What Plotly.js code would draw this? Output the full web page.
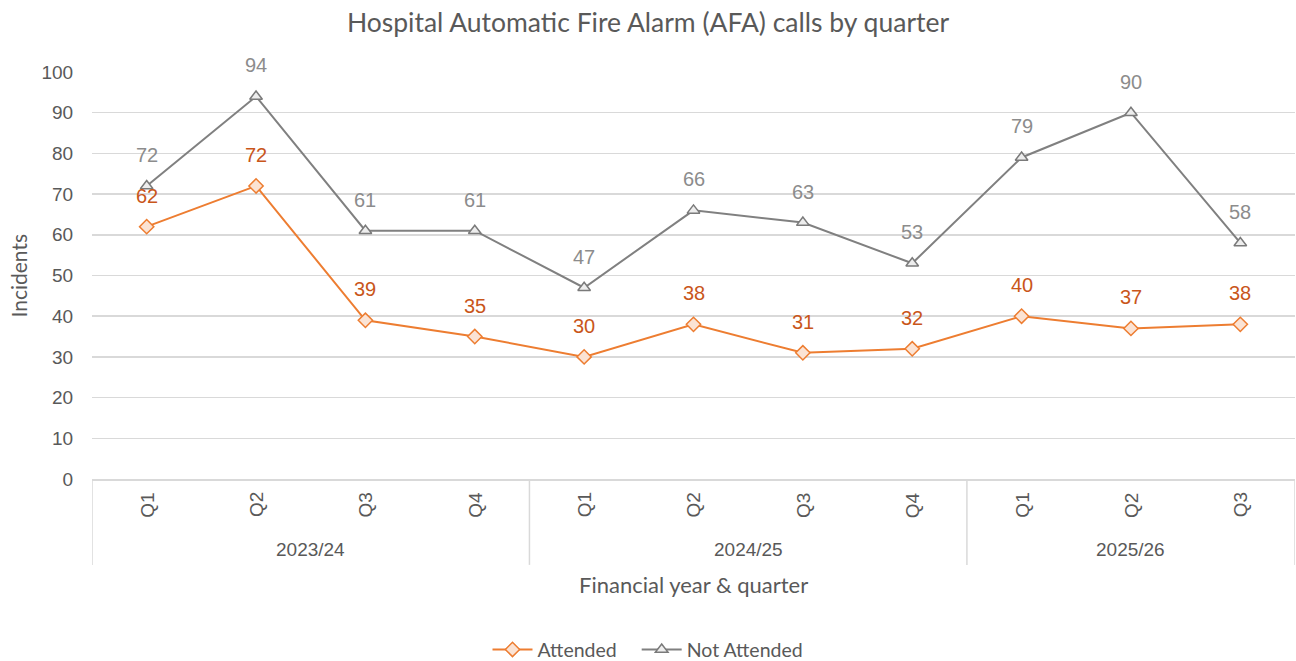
<!DOCTYPE html>
<html>
<head>
<meta charset="utf-8">
<script src="https://cdn.plot.ly/plotly-3.0.1.min.js"></script>
<style>html,body{margin:0;padding:0;background:#fff;}#chart{width:1296px;height:661px;}</style>
</head>
<body>
<div id="chart"></div>
<script>
const quarters = ["Q1","Q2","Q3","Q4","Q1","Q2","Q3","Q4","Q1","Q2","Q3"];
const years = ["2023/24","2023/24","2023/24","2023/24","2024/25","2024/25","2024/25","2024/25","2025/26","2025/26","2025/26"];
const attended = [62,72,39,35,30,38,31,32,40,37,38];
const notAttended = [72,94,61,61,47,66,63,53,79,90,58];
const yearGroups = ["2023/24","2024/25","2025/26"];

const xIdx = quarters.map((q,i)=>i);
const gray = '#595959';
const tickFont = {family:'"Liberation Sans", Arial, sans-serif', size:19, color:gray};
const labelFamily = 'Lato, "Open Sans", sans-serif';

const traces = [
  {x:xIdx, y:attended, name:'Attended\u00a0\u00a0\u00a0', type:'scatter', mode:'lines+markers',
   line:{color:'#ED7D31', width:2},
   marker:{symbol:'diamond', size:11, color:'#FBE3D4', line:{color:'#ED7D31', width:1.5}}},
  {x:xIdx, y:notAttended, name:'Not Attended', type:'scatter', mode:'lines+markers',
   line:{color:'#808080', width:2},
   marker:{symbol:'triangle-up', size:11, color:'#EDEDED', line:{color:'#7A7A7A', width:1.5}}}
];

const annotations = [];
attended.forEach((v,i)=>annotations.push({x:i, y:v, xref:'x', yref:'y', text:String(v), showarrow:false, yshift:31,
  font:{family:'"Liberation Sans", Arial, sans-serif', size:20, color:'#C9561A'}}));
notAttended.forEach((v,i)=>annotations.push({x:i, y:v, xref:'x', yref:'y', text:String(v), showarrow:false, yshift:31,
  font:{family:'"Liberation Sans", Arial, sans-serif', size:20, color:'#8C8C8C'}}));
quarters.forEach((q,i)=>annotations.push({x:i, y:-0.064, xref:'x', yref:'paper', text:q, showarrow:false, textangle:-90,
  xanchor:'center', yanchor:'middle', font:tickFont}));
yearGroups.forEach(g=>{
  const idx = years.map((y,i)=>y===g?i:-1).filter(i=>i>=0);
  const c = (idx[0]+idx[idx.length-1])/2;
  annotations.push({x:c, y:-0.174, xref:'x', yref:'paper', text:g, showarrow:false, xanchor:'center', yanchor:'middle', font:tickFont});
});
annotations.push({x:0.5, y:-0.26, xref:'paper', yref:'paper', text:'Financial year & quarter', showarrow:false,
  xanchor:'center', yanchor:'middle', font:{family:labelFamily, size:22, color:gray}});
annotations.push({x:0, y:0.5, xref:'paper', yref:'paper', xshift:-74, text:'Incidents', showarrow:false, textangle:-90,
  xanchor:'center', yanchor:'middle', font:{family:labelFamily, size:21, color:gray}});

const shapes = [];
const bounds = [-0.5];
yearGroups.forEach(g=>{ bounds.push(years.lastIndexOf(g)+0.5); });
bounds.forEach(b=>shapes.push({type:'line', xref:'x', yref:'paper', x0:b, x1:b, y0:0, y1:-0.211,
  line:{color:'#D9D9D9', width:1.5}}));

const layout = {
  width:1296, height:661,
  margin:{l:92, r:1, t:72, b:182},
  paper_bgcolor:'#fff', plot_bgcolor:'#fff',
  title:{text:'Hospital Automatic Fire Alarm (AFA) calls by quarter', x:0.5, xref:'container', xanchor:'center',
    y:0.966, yref:'container', yanchor:'middle',
    font:{family:labelFamily, size:26.5, color:gray}},
  xaxis:{range:[-0.5, quarters.length-0.5], showticklabels:false, ticks:'', showgrid:false, zeroline:false,
    showline:true, linecolor:'#D9D9D9', linewidth:1.5, fixedrange:true},
  yaxis:{range:[0,100], dtick:10, tick0:0, showgrid:true, gridcolor:'#D9D9D9', gridwidth:1.5, zeroline:false,
    showline:false, ticks:'outside', ticklen:14, tickcolor:'rgba(0,0,0,0)', tickfont:tickFont},
  showlegend:true,
  legend:{orientation:'h', x:0.5, xref:'container', xanchor:'center', y:0.017, yref:'container', yanchor:'middle',
    itemwidth:40, font:{family:labelFamily, size:19.5, color:gray}},
  annotations:annotations, shapes:shapes
};

Plotly.newPlot('chart', traces, layout, {displayModeBar:false, staticPlot:true});
</script>
</body>
</html>
